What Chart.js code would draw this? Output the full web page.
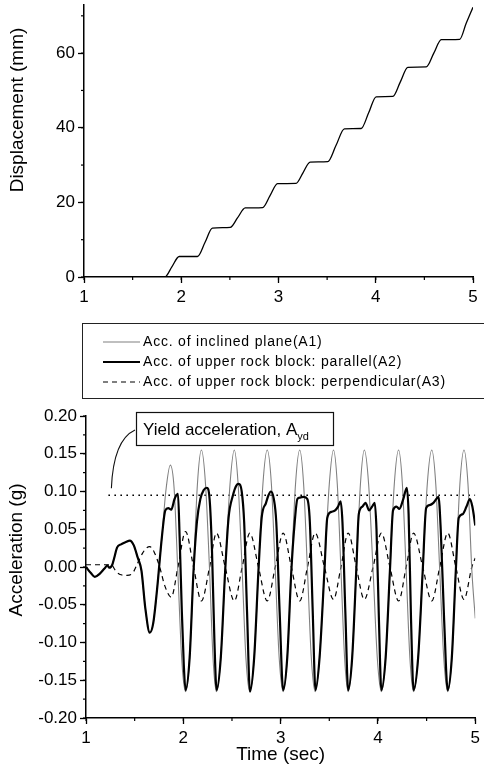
<!DOCTYPE html>
<html>
<head>
<meta charset="utf-8">
<script src="https://cdn.jsdelivr.net/npm/chart.js@4.4.1/dist/chart.umd.min.js"></script>
<style>
  html, body { margin: 0; padding: 0; background: #fff; }
  canvas { display: block; }
</style>
</head>
<body>
<canvas id="disp" width="484" height="310"></canvas>
<canvas id="acc" width="484" height="460"></canvas>
<script>
// ---- data ----

// upper plot: displacement of the rock block
const dispTime = [1.00, 1.831, 1.905, 1.979, 2.167, 2.245, 2.32, 2.504, 2.58, 2.658, 2.837, 2.913, 2.99,
  3.18, 3.253, 3.325, 3.506, 3.592, 3.678, 3.85, 3.927, 4.004, 4.176, 4.253, 4.33, 4.519, 4.597, 4.674,
  4.863, 4.93, 5.00];
const dispMm = [0, 0, 2.8, 5.5, 5.5, 9.3, 13.1, 13.3, 15.9, 18.5, 18.6, 21.8, 25,
  25.1, 28, 30.8, 30.9, 35.3, 39.7, 39.8, 44, 48.3, 48.4, 52.3, 56.2, 56.3, 60, 63.6,
  63.7, 68, 72.3];

// A1: acceleration of inclined plane
const timeA1 = [1.00, 1.05, 1.09, 1.14, 1.19, 1.22, 1.24, 1.27, 1.29, 1.32, 1.36, 1.41, 1.45, 1.49, 1.53,
  1.57, 1.61, 1.655, 1.69, 1.73, 1.78, 1.82, 1.866, 1.905, 1.945, 1.985, 2.023,
  2.065, 2.105, 2.145, 2.186, 2.228, 2.27, 2.305, 2.34,
  2.385, 2.43, 2.48, 2.524, 2.563, 2.605, 2.643, 2.683,
  2.728, 2.772, 2.818, 2.862, 2.905, 2.945, 2.985, 3.026,
  3.068, 3.11, 3.153, 3.196, 3.236, 3.276, 3.315, 3.355,
  3.40, 3.45, 3.50, 3.543, 3.582, 3.62, 3.657, 3.694,
  3.735, 3.777, 3.82, 3.86, 3.904, 3.95, 3.993, 4.035,
  4.079, 4.123, 4.168, 4.212, 4.251, 4.29, 4.328, 4.366,
  4.413, 4.46, 4.507, 4.553, 4.594, 4.635, 4.676, 4.717,
  4.759, 4.80, 4.842, 4.884, 4.925, 4.965, 5.00];
const accA1 = [0, -0.008, -0.013, -0.009, -0.002, 0.002, -0.001, 0.003, 0.012, 0.026, 0.030, 0.033, 0.035, 0.029, 0.013,
  -0.005, -0.055, -0.087, -0.075, -0.03, 0.04, 0.10, 0.135, 0.105, -0.01, -0.125, -0.165,
  -0.12, -0.005, 0.11, 0.155, 0.11, -0.005, -0.12, -0.165,
  -0.12, -0.005, 0.11, 0.155, 0.11, -0.005, -0.12, -0.165,
  -0.12, -0.005, 0.11, 0.155, 0.11, -0.005, -0.12, -0.165,
  -0.12, -0.005, 0.11, 0.155, 0.11, -0.005, -0.12, -0.165,
  -0.12, -0.005, 0.11, 0.155, 0.11, -0.005, -0.12, -0.165,
  -0.12, -0.005, 0.11, 0.155, 0.11, -0.005, -0.12, -0.165,
  -0.12, -0.005, 0.11, 0.155, 0.11, -0.005, -0.12, -0.165,
  -0.12, -0.005, 0.11, 0.155, 0.11, -0.005, -0.12, -0.165,
  -0.12, -0.005, 0.11, 0.155, 0.11, -0.005, -0.068];

// A2: acceleration of upper rock block, parallel
const timeA2 = [1.00, 1.05, 1.09, 1.14, 1.19, 1.22, 1.24, 1.27, 1.29, 1.32, 1.36, 1.41, 1.45, 1.49, 1.53,
  1.57, 1.61, 1.655, 1.69, 1.73, 1.78,
  1.815, 1.845, 1.876, 1.91, 1.945, 1.962, 1.985, 2.005, 2.023,
  2.065, 2.105, 2.14, 2.175, 2.21, 2.241, 2.27, 2.295, 2.32, 2.342,
  2.385, 2.43, 2.465, 2.51, 2.545, 2.569, 2.60, 2.625, 2.655, 2.685,
  2.728, 2.772, 2.805, 2.85, 2.875, 2.90, 2.93, 2.955, 2.99, 3.026,
  3.068, 3.11, 3.145, 3.172, 3.20, 3.24, 3.274, 3.30, 3.33, 3.358,
  3.40, 3.45, 3.479, 3.52, 3.56, 3.59, 3.616, 3.635, 3.665, 3.694,
  3.735, 3.777, 3.803, 3.84, 3.872, 3.91, 3.94, 3.967, 3.985, 4.01, 4.035,
  4.079, 4.123, 4.155, 4.19, 4.22, 4.26, 4.297, 4.315, 4.34, 4.366,
  4.413, 4.46, 4.495, 4.53, 4.57, 4.60, 4.622, 4.645, 4.68, 4.717,
  4.759, 4.80, 4.83, 4.87, 4.91, 4.945, 4.97, 5.00];
const accA2 = [0, -0.008, -0.013, -0.009, -0.002, 0.002, -0.001, 0.003, 0.012, 0.026, 0.030, 0.033, 0.035, 0.029, 0.013,
  -0.005, -0.055, -0.087, -0.075, -0.03, 0.04,
  0.075, 0.078, 0.076, 0.09, 0.097, 0.04, -0.06, -0.13, -0.163,
  -0.12, -0.005, 0.06, 0.09, 0.102, 0.105, 0.09, 0.02, -0.10, -0.163,
  -0.12, -0.005, 0.065, 0.095, 0.108, 0.11, 0.10, 0.06, -0.06, -0.165,
  -0.12, -0.005, 0.065, 0.085, 0.095, 0.10, 0.09, 0.06, -0.06, -0.163,
  -0.12, -0.005, 0.06, 0.09, 0.092, 0.093, 0.09, 0.06, -0.06, -0.163,
  -0.12, -0.005, 0.065, 0.073, 0.075, 0.08, 0.087, 0.06, -0.06, -0.163,
  -0.12, -0.005, 0.07, 0.08, 0.085, 0.075, 0.08, 0.085, 0.05, -0.07, -0.163,
  -0.12, -0.005, 0.075, 0.08, 0.077, 0.09, 0.105, 0.07, -0.07, -0.163,
  -0.12, -0.005, 0.078, 0.082, 0.085, 0.09, 0.093, 0.05, -0.07, -0.163,
  -0.12, -0.005, 0.065, 0.07, 0.08, 0.09, 0.08, 0.055];

// A3: acceleration of upper rock block, perpendicular
const timeA3 = [1.00, 1.10, 1.20, 1.26, 1.30, 1.35, 1.42, 1.48, 1.53, 1.58, 1.62, 1.655, 1.70, 1.757, 1.81, 1.876,
  1.945, 2.023, 2.105, 2.186, 2.27, 2.34, 2.43, 2.524, 2.605, 2.683, 2.772, 2.862, 2.945, 3.026,
  3.11, 3.196, 3.276, 3.355, 3.45, 3.543, 3.62, 3.694, 3.777, 3.86, 3.95, 4.035,
  4.123, 4.212, 4.29, 4.366, 4.46, 4.553, 4.635, 4.717, 4.80, 4.884, 4.965, 5.00];
const accA3 = [0.003, 0.003, 0.003, 0.003, -0.004, -0.010, -0.011, -0.008, 0.005, 0.018, 0.025, 0.027, 0.02, 0.0, -0.025, -0.04,
  0.0, 0.047, 0.0, -0.045, 0.0, 0.045, 0.0, -0.045, 0.0, 0.045, 0.0, -0.045, 0.0, 0.045,
  0.0, -0.045, 0.0, 0.045, 0.0, -0.043, 0.0, 0.045, 0.0, -0.043, 0.0, 0.045,
  0.0, -0.045, 0.0, 0.045, 0.0, -0.045, 0.0, 0.045, 0.0, -0.043, 0.0, 0.012];

// yield acceleration level (dotted line)
const yieldTime = [1.23, 5.00];
const yieldAcc = [0.095, 0.095];

const seriesLabels = [
  'Acc. of inclined plane(A1)',
  'Acc. of upper rock block: parallel(A2)',
  'Acc. of upper rock block: perpendicular(A3)'
];
const yieldText = 'Yield acceleration, A';
const yieldSub = 'yd';

// ---- drawing ----
const FONT = "'Liberation Sans', Arial, Helvetica, sans-serif";
Chart.defaults.font.family = FONT;
Chart.defaults.font.size = 17;
Chart.defaults.color = '#000';

const xy = (ts, vs) => ts.map((t, i) => ({ x: t, y: vs[i] }));

// short ticks half way between the labelled ones
const minorTicks = {
  id: 'minorTicks',
  afterDraw(chart) {
    const ctx = chart.ctx;
    const area = chart.chartArea;
    ctx.save();
    ctx.strokeStyle = '#000';
    ctx.lineWidth = 1.2;
    ['x', 'y'].forEach(id => {
      const s = chart.scales[id];
      const vals = s.ticks.map(t => t.value);
      const half = (vals[1] - vals[0]) / 2;
      for (let i = 0; vals[0] + i * half <= s.max + 1e-9; i++) {
        const p = s.getPixelForValue(vals[0] + i * half);
        ctx.beginPath();
        if (id === 'x') {
          ctx.moveTo(p, area.bottom);
          ctx.lineTo(p, area.bottom + 3);
        } else {
          ctx.moveTo(area.left, p);
          ctx.lineTo(area.left - 3, p);
        }
        ctx.stroke();
      }
    });
    ctx.restore();
  }
};

// y axis title placed like the original (not centred on the axis)
const yTitle = {
  id: 'yTitle',
  afterDraw(chart, args, opts) {
    const ctx = chart.ctx;
    ctx.save();
    ctx.translate(opts.x, opts.y);
    ctx.rotate(-Math.PI / 2);
    ctx.font = `19px ${FONT}`;
    ctx.fillStyle = '#000';
    ctx.textAlign = 'center';
    ctx.textBaseline = 'middle';
    ctx.fillText(opts.text, 0, 0);
    ctx.restore();
  }
};

// boxed legend above the acceleration plot
const legendBox = {
  id: 'legendBox',
  afterDraw(chart, args, o) {
    const ctx = chart.ctx;
    ctx.save();
    ctx.strokeStyle = '#222';
    ctx.lineWidth = 1;
    ctx.strokeRect(o.left + 0.5, o.top + 0.5, o.right - o.left, o.bottom - o.top);
    ctx.font = `14px ${FONT}`;
    ctx.letterSpacing = '0.8px';
    ctx.textBaseline = 'middle';
    ctx.fillStyle = '#000';
    chart.data.datasets.filter(d => d.label).forEach((d, i) => {
      const y = o.rows[i];
      ctx.strokeStyle = d.borderColor;
      ctx.lineWidth = d.borderWidth;
      ctx.setLineDash(d.borderDash || []);
      ctx.beginPath();
      ctx.moveTo(o.lineFrom, y);
      ctx.lineTo(o.lineTo, y);
      ctx.stroke();
      ctx.setLineDash([]);
      ctx.fillText(d.label, o.textX, y);
    });
    ctx.restore();
  }
};

// "Yield acceleration" note with curved pointer to the dotted line
const yieldNote = {
  id: 'yieldNote',
  afterDraw(chart, args, o) {
    const ctx = chart.ctx;
    const xs = chart.scales.x, ys = chart.scales.y;
    ctx.save();
    ctx.fillStyle = '#fff';
    ctx.fillRect(o.left, o.top, o.right - o.left, o.bottom - o.top);
    ctx.strokeStyle = '#111';
    ctx.lineWidth = 1.2;
    ctx.strokeRect(o.left + 0.5, o.top + 0.5, o.right - o.left, o.bottom - o.top);
    ctx.fillStyle = '#000';
    ctx.textBaseline = 'alphabetic';
    ctx.font = `17px ${FONT}`;
    ctx.fillText(yieldText, o.left + 7, o.top + 23);
    const w = ctx.measureText(yieldText).width;
    ctx.font = `11px ${FONT}`;
    ctx.fillText(yieldSub, o.left + 7 + w, o.top + 28);
    // pointer
    const ex = xs.getPixelForValue(yieldTime[0]) + 3;
    const ey = ys.getPixelForValue(yieldAcc[0]) - 7;
    ctx.lineWidth = 1.1;
    ctx.beginPath();
    ctx.moveTo(o.left - 1, o.top + 18);
    ctx.quadraticCurveTo(ex + 2, o.top + 28, ex, ey);
    ctx.stroke();
    ctx.restore();
  }
};

const axisLook = {
  type: 'linear',
  border: { color: '#000', width: 1.5 },
  grid: { drawOnChartArea: false, drawTicks: true, tickLength: 6, tickColor: '#000', tickWidth: 1.3 }
};

new Chart(document.getElementById('disp'), {
  type: 'line',
  data: {
    datasets: [{
      data: xy(dispTime, dispMm),
      borderColor: '#000',
      borderWidth: 1.3,
      pointRadius: 0,
      cubicInterpolationMode: 'monotone',
      fill: false
    }]
  },
  options: {
    animation: false,
    responsive: false,
    devicePixelRatio: 1,
    layout: { padding: { left: 0, right: 11, top: 5, bottom: 0 } },
    plugins: {
      legend: { display: false },
      tooltip: { enabled: false },
      yTitle: { text: 'Displacement (mm)', x: 18, y: 110 }
    },
    scales: {
      x: {
        ...axisLook, min: 1, max: 5,
        ticks: { stepSize: 1, padding: 4, maxRotation: 0 },
        afterFit: s => { s.height = 33; }
      },
      y: {
        ...axisLook, min: 0, max: 72.9,
        ticks: { stepSize: 20, padding: 3, includeBounds: false },
        afterFit: s => { s.width = 84; s.paddingTop = 0; }
      }
    }
  },
  plugins: [minorTicks, yTitle]
});

new Chart(document.getElementById('acc'), {
  type: 'line',
  data: {
    datasets: [
      { label: seriesLabels[0], data: xy(timeA1, accA1), borderColor: '#808080', borderWidth: 1.1, order: 1 },
      { label: seriesLabels[1], data: xy(timeA2, accA2), borderColor: '#000', borderWidth: 2.2, order: 0 },
      { label: seriesLabels[2], data: xy(timeA3, accA3), borderColor: '#000', borderWidth: 1.2, borderDash: [5, 4], order: 2 },
      { label: '', data: xy(yieldTime, yieldAcc), borderColor: '#000', borderWidth: 1.6, borderDash: [1.6, 4.4], order: 3 }
    ]
  },
  options: {
    animation: false,
    responsive: false,
    devicePixelRatio: 1,
    elements: { point: { radius: 0 }, line: { cubicInterpolationMode: 'monotone', fill: false } },
    layout: { padding: { left: 0, right: 7, top: 106, bottom: 0 } },
    plugins: {
      legend: { display: false },
      tooltip: { enabled: false },
      yTitle: { text: 'Acceleration (g)', x: 17, y: 240 },
      legendBox: { left: 82, top: 13, right: 492, bottom: 88, rows: [32, 52, 72], lineFrom: 103, lineTo: 140, textX: 143 },
      yieldNote: { left: 136, top: 102, right: 333, bottom: 135 }
    },
    scales: {
      x: {
        ...axisLook, min: 1, max: 5,
        ticks: { stepSize: 1, padding: 4, maxRotation: 0 },
        title: { display: true, text: 'Time (sec)', font: { size: 19 }, padding: { top: 0, bottom: 4 } },
        afterFit: s => { s.height = 52; }
      },
      y: {
        ...axisLook, min: -0.2, max: 0.2,
        ticks: { stepSize: 0.05, padding: 3, callback: v => (Math.abs(v) < 1e-9 ? 0 : v).toFixed(2) },
        afterFit: s => { s.width = 86; }
      }
    }
  },
  plugins: [minorTicks, yTitle, legendBox, yieldNote]
});
</script>
</body>
</html>
